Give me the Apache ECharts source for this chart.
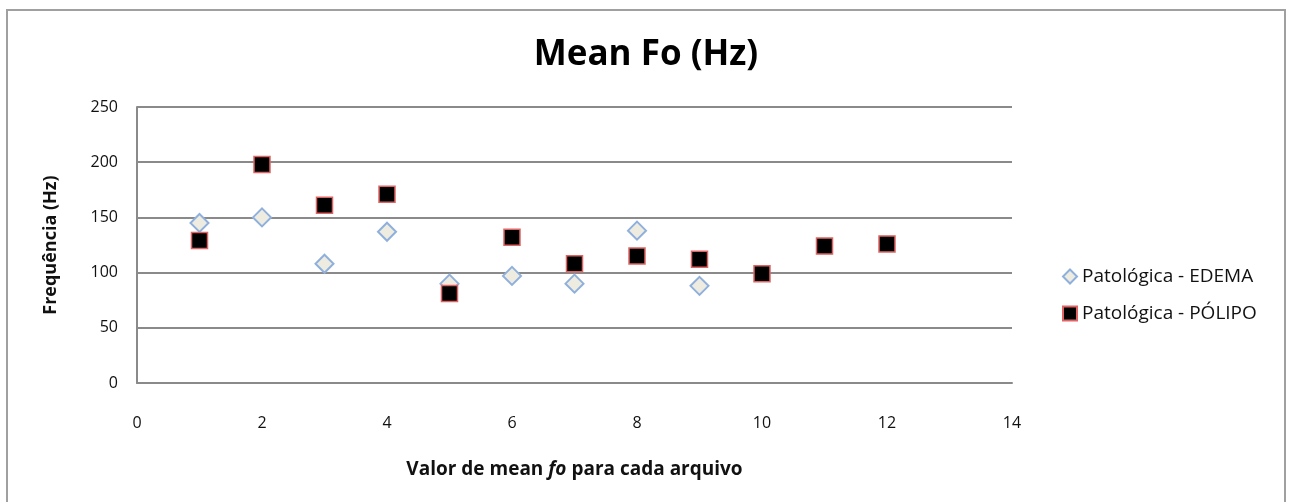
<!DOCTYPE html>
<html>
<head>
<meta charset="utf-8">
<script src="https://cdn.jsdelivr.net/npm/echarts@6/dist/echarts.min.js"></script>
<style>
  html, body { margin: 0; padding: 0; background: #fff; }
  #chart { width: 1292px; height: 502px; }
</style>
</head>
<body>
<div id="chart"></div>
<script>
// Mean fundamental frequency per recording, two pathology groups
const edemaX = [1, 2, 3, 4, 5, 6, 7, 8, 9];
const edemaY = [145, 150, 108, 137, 90, 97, 90, 138, 88];
const polipoX = [1, 2, 3, 4, 5, 6, 7, 8, 9, 10, 11, 12];
const polipoY = [129, 198, 161, 171, 81, 132, 108, 115, 112, 99, 124, 126];
const xTicks = [0, 2, 4, 6, 8, 10, 12, 14];
const yTicks = [0, 50, 100, 150, 200, 250];
const seriesNames = ['Patológica - EDEMA', 'Patológica - PÓLIPO'];

const font = '"Open Sans", "Noto Sans", sans-serif';
const chart = echarts.init(document.getElementById('chart'), null, { renderer: 'canvas' });

const pairs = (xs, ys) => xs.map((x, i) => [x, ys[i]]);

chart.setOption({
  animation: false,
  backgroundColor: '#fff',
  graphic: [{
    type: 'rect',
    shape: { x: 7, y: 10, width: 1278, height: 500 },
    style: { fill: 'none', stroke: '#a0a0a0', lineWidth: 2 },
    silent: true
  }],
  title: {
    text: 'Mean Fo (Hz)',
    left: 'center',
    top: 33,
    textStyle: { fontFamily: font, fontWeight: 'bold', fontSize: 35, color: '#000' }
  },
  grid: { left: 137, right: 280, top: 107, bottom: 119 },
  legend: {
    orient: 'vertical',
    left: 1057,
    top: 262,
    itemGap: 18,
    itemWidth: 14,
    itemHeight: 14,
    textStyle: { fontFamily: font, fontSize: 19, color: '#111' },
    data: seriesNames
  },
  xAxis: {
    type: 'value',
    min: xTicks[0],
    max: xTicks[xTicks.length - 1],
    interval: 2,
    name: '{b|Valor de mean }{i|fo}{b| para cada arquivo}',
    nameLocation: 'middle',
    nameGap: 77,
    nameTextStyle: {
      rich: {
        b: { fontFamily: font, fontWeight: 'bold', fontSize: 19, color: '#111' },
        i: { fontFamily: font, fontWeight: 'bold', fontStyle: 'italic', fontSize: 19, color: '#111' }
      }
    },
    axisLine: { show: true, lineStyle: { color: '#8a8a8a', width: 2 } },
    axisTick: { show: false },
    splitLine: { show: false },
    axisLabel: { margin: 32, fontFamily: font, fontSize: 16, color: '#111' }
  },
  yAxis: {
    type: 'value',
    min: yTicks[0],
    max: yTicks[yTicks.length - 1],
    interval: 50,
    name: 'Frequência (Hz)',
    nameLocation: 'middle',
    nameGap: 77,
    nameTextStyle: { fontFamily: font, fontWeight: 'bold', fontSize: 18, color: '#111' },
    axisLine: { show: true, lineStyle: { color: '#8a8a8a', width: 2 } },
    axisTick: { show: false },
    splitLine: { show: true, lineStyle: { color: '#8a8a8a', width: 2 } },
    axisLabel: { margin: 19, fontFamily: font, fontSize: 16, color: '#111' }
  },
  series: [
    {
      name: seriesNames[0],
      type: 'scatter',
      symbol: 'diamond',
      symbolSize: 18,
      itemStyle: { color: '#eeece1', borderColor: '#8fb0dc', borderWidth: 2, opacity: 1 },
      data: pairs(edemaX, edemaY),
      z: 2
    },
    {
      name: seriesNames[1],
      type: 'scatter',
      symbol: 'rect',
      symbolSize: 16,
      itemStyle: { color: '#000', borderColor: '#e06464', borderWidth: 1.5, opacity: 1 },
      data: pairs(polipoX, polipoY),
      z: 3
    }
  ]
});
</script>
</body>
</html>
